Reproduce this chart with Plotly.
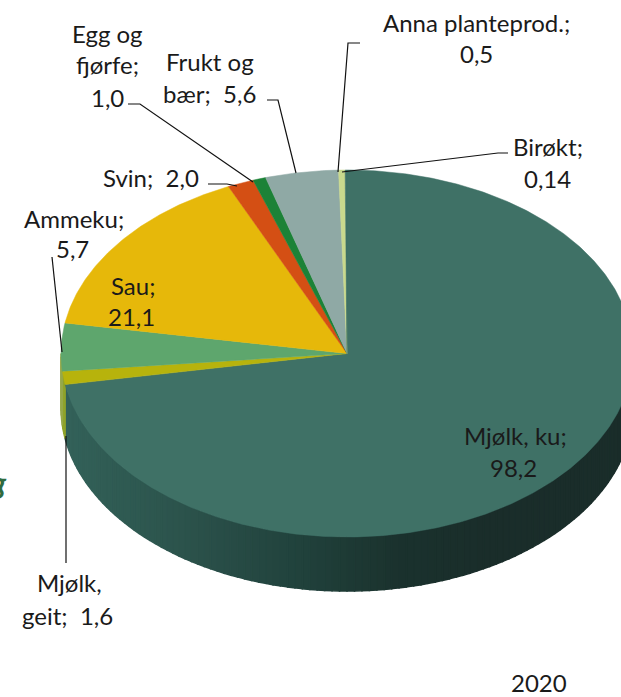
import numpy as np
import plotly.graph_objects as go

categories = ['Mjølk, ku', 'Mjølk, geit', 'Ammeku', 'Sau', 'Svin', 'Egg og fjørfe',
              'Frukt og bær', 'Anna planteprod.', 'Birøkt']
values = [98.2, 1.6, 5.7, 21.1, 2.0, 1.0, 5.6, 0.5, 0.14]
colors = ['#3f7166', '#b7b30c', '#5ea66d', '#e6b80a', '#d44f14', '#1c8237',
          '#8fa9a5', '#c9d98d', '#3f7166']
rim_colors = ['#2f5a50', '#8fa32a', '#96a84a', '#b39008', '#a53d10', '#166329',
              '#6f8380', '#9ca96d', '#2f5a50']

# rim gets darker from left to right
shade_x = [62, 130, 200, 300, 400, 500, 640]
shade_colors = ['#34625a', '#2f5a52', '#2b514a', '#21423c', '#1b322e', '#1a2d2a', '#1a2d2a']

label_lines = [
    ('Egg og', 107, 33), ('fjørfe;', 107, 64), ('1,0', 107, 97),
    ('Frukt og', 210, 61), ('bær;  5,6', 209, 93),
    ('Anna planteprod.;', 476, 22), ('0,5', 476, 53),
    ('Birøkt;', 548, 146), ('0,14', 547, 178),
    ('Svin;  2,0', 151, 177),
    ('Ammeku;', 74, 218), ('5,7', 72, 248),
    ('Sau;', 133, 285), ('21,1', 131, 316),
    ('Mjølk, ku;', 515, 435), ('98,2', 513, 467),
    ('Mjølk,', 69, 582), ('geit;  1,6', 67, 615),
    ('2020', 539, 682),
]

leaders = [
    ([128, 140, 253], [104, 104, 182]),
    ([267, 278, 296], [100, 100, 173]),
    ([360, 348, 338], [43, 43, 172]),
    ([508, 498, 342], [153, 153, 172]),
    ([208, 227, 237], [184, 184, 186]),
    ([52, 62], [257, 352]),
    ([66, 66], [436, 563]),
]

CX, CY = 347, 353.5
RX, RY = 286, 183.5
DEPTH = 54


def ellipse(deg, drop=0):
    # 0 deg is straight up, going clockwise
    a = np.radians(deg)
    return CX + RX * np.sin(a), CY - RY * np.cos(a) + drop


def hex_mix(x):
    rgb = [np.interp(x, shade_x, [int(c[i:i + 2], 16) for c in shade_colors]) for i in (1, 3, 5)]
    return 'rgb(%d,%d,%d)' % tuple(rgb)


edges = np.concatenate([[0], np.cumsum(values)]) / sum(values) * 360

fig = go.Figure()

# side of the pie, only the front half shows
for i in range(len(values)):
    start, end = max(edges[i], 90), min(edges[i + 1], 270)
    if end <= start:
        continue
    steps = np.arange(start, end, 1.5).tolist() + [end]
    for a, b in zip(steps[:-1], steps[1:]):
        xs, ys = ellipse(np.linspace(a, b, 4))
        xb, yb = ellipse(np.linspace(b, a, 4), DEPTH)
        col = hex_mix(xs.mean()) if i == 0 else rim_colors[i]
        fig.add_trace(go.Scatter(x=np.r_[xs, xb, xs[0]], y=np.r_[ys, yb, ys[0]], mode='lines',
                                 fill='toself', fillcolor=col, line=dict(color=col, width=1.5),
                                 hoverinfo='skip', showlegend=False))

# top face
for i in range(len(values)):
    angles = np.linspace(edges[i], edges[i + 1], max(int(edges[i + 1] - edges[i]) * 2, 3))
    xs, ys = ellipse(angles)
    fig.add_trace(go.Scatter(x=np.r_[CX, xs, CX], y=np.r_[CY, ys, CY], mode='lines',
                             fill='toself', fillcolor=colors[i],
                             line=dict(color=colors[i], width=0.5),
                             name=categories[i], hoverinfo='name', showlegend=False))

for lx, ly in leaders:
    fig.add_trace(go.Scatter(x=lx, y=ly, mode='lines', line=dict(color='#111111', width=1.2),
                             hoverinfo='skip', showlegend=False))

for text, x, y in label_lines:
    fig.add_annotation(x=x, y=y, text=text, showarrow=False, xanchor='center', yanchor='middle',
                       font=dict(family='Lato', size=24, color='#1a1a1a'))

# cut off word at the left edge of the picture
fig.add_annotation(x=9, y=482, text='<b><i>g</i></b>', showarrow=False, xanchor='right',
                   yanchor='middle', font=dict(family='Lato', size=30, color='#2f6b3f'))

fig.update_xaxes(range=[0, 621], visible=False, fixedrange=True)
fig.update_yaxes(range=[697, 0], visible=False, fixedrange=True)
fig.update_layout(width=621, height=697, margin=dict(l=0, r=0, t=0, b=0),
                  paper_bgcolor='white', plot_bgcolor='white')

# page default margin would push the figure 8px in
fig.write_html("out.html", config={'displayModeBar': False},
               post_script="document.body.style.margin='0';")
